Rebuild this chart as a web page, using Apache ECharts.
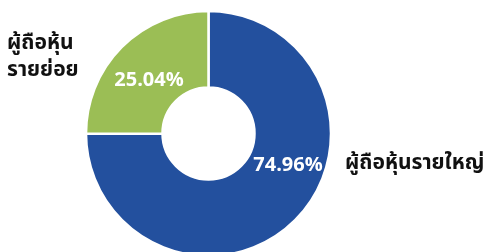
<!DOCTYPE html>
<html><head><meta charset="utf-8">
<script src="https://cdn.jsdelivr.net/npm/echarts@6/dist/echarts.min.js"></script>
<style>html,body{margin:0;padding:0;background:#fff}#c{width:489px;height:252px}</style>
</head><body><div id="c"></div>
<script>
const categories = ['ผู้ถือหุ้นรายใหญ่', 'ผู้ถือหุ้นรายย่อย'];
const nameLines = [['ผู้ถือหุ้นรายใหญ่'], ['ผู้ถือหุ้น', 'รายย่อย']];
const values = [74.96, 25.04];
const colors = ['#23509E', '#9BBE55'];

const chart = echarts.init(document.getElementById('c'), null, {renderer: 'canvas'});
const labelPos = [[288, 167], [149, 82]];
const namePos = [[345, 165], [7, 58]];
const font = "'Noto Sans Thai', 'Loma', 'Garuda', 'Noto Sans', 'DejaVu Sans', sans-serif";
chart.setOption({
  animation: false,
  series: [{
    type: 'pie',
    center: [208.5, 133.5],
    radius: [46, 122.5],
    startAngle: 90,
    clockwise: true,
    data: categories.map((n, i) => ({name: n, value: values[i], itemStyle: {color: colors[i]}})),
    itemStyle: {borderColor: '#fff', borderWidth: 2.5},
    label: {show: true, position: 'inside', formatter: p => p.value.toFixed(2) + '%',
      color: '#fff', fontSize: 20, fontWeight: 'bold', fontFamily: font},
    labelLine: {show: false},
    labelLayout: p => ({x: labelPos[p.dataIndex][0], y: labelPos[p.dataIndex][1], align: 'center', verticalAlign: 'middle'})
  }],
  graphic: nameLines.map((lines, i) => ({
    type: 'text', left: namePos[i][0], top: namePos[i][1] - lines.length * 13.5,
    style: {text: lines.join('\n'), fontSize: 21, fontWeight: 'bold', fill: '#111', lineHeight: 27, fontFamily: font}
  }))
});
</script></body></html>
